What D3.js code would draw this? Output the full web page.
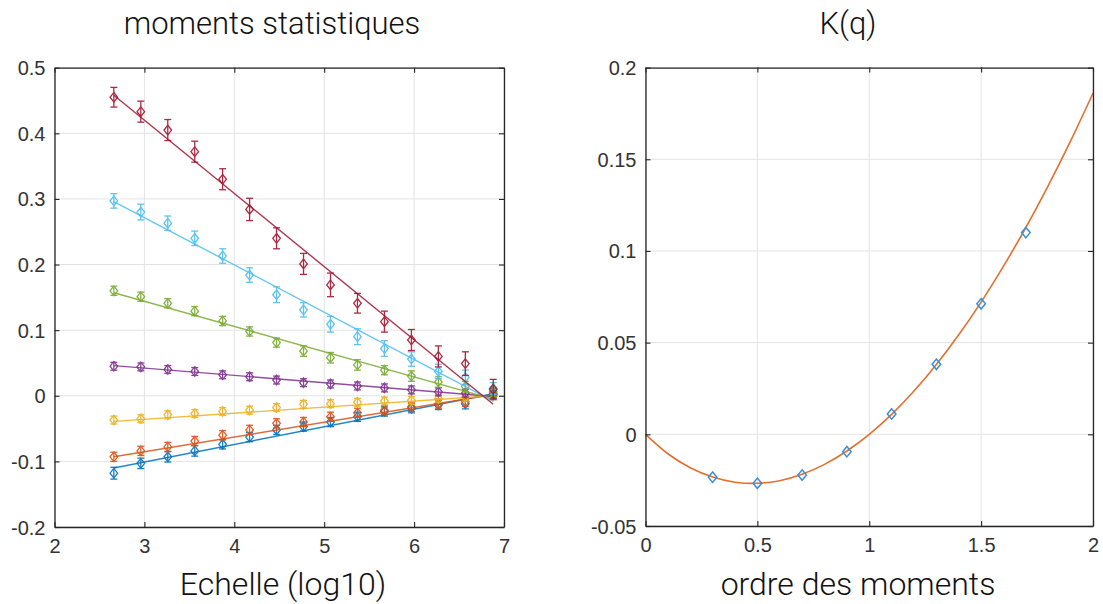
<!DOCTYPE html>
<html><head><meta charset="utf-8">
<script src="https://cdn.jsdelivr.net/npm/d3@7"></script>
<style>body{margin:0;background:#fff}</style>
</head><body><svg id="c" width="1103" height="604"></svg>
<script>
// ---------- data: left panel (moments statistiques) ----------
const scaleX = [2.66,2.96,3.26,3.56,3.87,4.17,4.47,4.77,5.07,5.37,5.67,5.97,6.27,6.57,6.88];
const seriesBlue   = [-0.118,-0.103,-0.093,-0.084,-0.074,-0.063,-0.052,-0.047,-0.040,-0.032,-0.024,-0.019,-0.014,-0.012,0.004];
const seriesOrange = [-0.093,-0.084,-0.078,-0.069,-0.060,-0.052,-0.042,-0.040,-0.032,-0.026,-0.022,-0.017,-0.012,-0.009,0.000];
const seriesYellow = [-0.037,-0.035,-0.029,-0.027,-0.024,-0.022,-0.018,-0.013,-0.012,-0.010,-0.008,-0.007,-0.004,-0.002,0.000];
const seriesPurple = [0.045,0.044,0.040,0.037,0.032,0.029,0.024,0.020,0.018,0.015,0.012,0.009,0.006,0.004,0.002];
const seriesGreen  = [0.160,0.151,0.141,0.129,0.114,0.098,0.081,0.068,0.058,0.047,0.039,0.030,0.021,0.014,0.006];
const seriesLBlue  = [0.297,0.280,0.263,0.240,0.213,0.184,0.154,0.131,0.109,0.090,0.072,0.056,0.037,0.028,0.011];
const seriesRed    = [0.455,0.433,0.405,0.372,0.330,0.284,0.240,0.201,0.169,0.141,0.113,0.085,0.060,0.049,0.010];
const errBlue   = [0.009,0.008,0.008,0.008,0.007,0.007,0.007,0.007,0.007,0.007,0.007,0.007,0.007,0.008,0.007];
const errOrange = [0.007,0.007,0.007,0.007,0.007,0.007,0.007,0.007,0.007,0.007,0.007,0.007,0.007,0.007,0.006];
const errYellow = [0.006,0.006,0.006,0.006,0.006,0.006,0.006,0.006,0.006,0.006,0.006,0.006,0.006,0.006,0.006];
const errPurple = [0.006,0.006,0.006,0.006,0.006,0.006,0.006,0.006,0.006,0.006,0.006,0.006,0.006,0.006,0.006];
const errGreen  = [0.007,0.007,0.007,0.007,0.007,0.007,0.007,0.008,0.008,0.008,0.007,0.008,0.008,0.008,0.007];
const errLBlue  = [0.011,0.012,0.011,0.011,0.011,0.011,0.012,0.011,0.012,0.012,0.012,0.011,0.011,0.011,0.009];
const errRed    = [0.015,0.016,0.016,0.016,0.016,0.017,0.016,0.016,0.018,0.015,0.016,0.016,0.016,0.018,0.015];
const fitX      = [2.66, 6.88];
const fitStart  = [-0.110,-0.093,-0.039,0.046,0.157,0.296,0.458];
const fitEnd    = [0.003,0.002,0.000,-0.001,-0.005,-0.008,-0.013];
const seriesColors = ["#0072BD","#D95319","#EDB120","#7E2F8E","#77AC30","#4DBEEE","#A2142F"];
const leftXTicks = [2,3,4,5,6,7];
const leftYTicks = [-0.2,-0.1,0,0.1,0.2,0.3,0.4,0.5];
const leftYLabels = ["-0.2","-0.1","0","0.1","0.2","0.3","0.4","0.5"];

// ---------- data: right panel K(q) ----------
const qPoints = [0.3,0.5,0.7,0.9,1.1,1.3,1.5,1.7];
const kPoints = [-0.0234,-0.0267,-0.0222,-0.0095,0.0111,0.0382,0.0712,0.1100];
const qCurve = [0,0.1,0.2,0.3,0.4,0.5,0.6,0.7,0.8,0.9,1.0,1.1,1.2,1.3,1.4,1.5,1.6,1.7,1.8,1.9,2.0];
const kCurve = [0,-0.0106,-0.0182,-0.0233,-0.0261,-0.0267,-0.0253,-0.0218,-0.0164,-0.0091,0,0.0109,0.0236,0.0381,0.0543,0.0721,0.0917,0.1128,0.1356,0.1600,0.1860];
const rightXTicks = [0,0.5,1,1.5,2];
const rightXLabels = ["0","0.5","1","1.5","2"];
const rightYTicks = [-0.05,0,0.05,0.1,0.15,0.2];
const rightYLabels = ["-0.05","0","0.05","0.1","0.15","0.2"];

const svg = d3.select("#c");
const AX = "#262626", GRID = "#e3e3e3", TICKTXT = "#333";
const titleFont = "Roboto, 'Open Sans', sans-serif";
const tickFont = "'Liberation Sans', Arial, sans-serif";

function frame(g, x, y, xt, yt) {
  const [x0,x1] = x.range(), [y0,y1] = y.range();
  g.append("g").selectAll("line").data(xt).join("line")
    .attr("x1", d=>x(d)).attr("x2", d=>x(d)).attr("y1", y0).attr("y2", y1)
    .attr("stroke", GRID).attr("stroke-width", 1);
  g.append("g").selectAll("line").data(yt).join("line")
    .attr("y1", d=>y(d)).attr("y2", d=>y(d)).attr("x1", x0).attr("x2", x1)
    .attr("stroke", GRID).attr("stroke-width", 1);
}
function axes(g, x, y, xt, xl, yt, yl) {
  const [x0,x1] = x.range(), [y0,y1] = y.range();
  const T = 5;
  const bottom = g.append("g").attr("transform", `translate(0,${y0})`)
    .call(d3.axisBottom(x).tickValues(xt).tickFormat((d,i)=>xl[i]).tickSizeInner(-T).tickSizeOuter(0).tickPadding(12));
  const top = g.append("g").attr("transform", `translate(0,${y1})`)
    .call(d3.axisTop(x).tickValues(xt).tickFormat("").tickSizeInner(-T).tickSizeOuter(0));
  const left = g.append("g").attr("transform", `translate(${x0},0)`)
    .call(d3.axisLeft(y).tickValues(yt).tickFormat((d,i)=>yl[i]).tickSizeInner(-T).tickSizeOuter(0).tickPadding(9));
  const right = g.append("g").attr("transform", `translate(${x1},0)`)
    .call(d3.axisRight(y).tickValues(yt).tickFormat("").tickSizeInner(-T).tickSizeOuter(0));
  [bottom,top,left,right].forEach(a=>{
    a.select(".domain").attr("stroke", AX).attr("stroke-width", 1.3);
    a.selectAll(".tick line").attr("stroke", AX).attr("stroke-width", 1.1);
    a.selectAll("text").attr("fill", TICKTXT).style("font-family", tickFont).style("font-size", "20px");
  });
  left.selectAll("text").attr("dy", "0.35em");
}
function diamond(w, h) { return `M0,${-h}L${w},0L0,${h}L${-w},0Z`; }

// ---------- left panel ----------
const xL = d3.scaleLinear().domain([2,7]).range([54.5,504]);
const yL = d3.scaleLinear().domain([-0.2,0.5]).range([527,67.7]);
const gL = svg.append("g");
frame(gL, xL, yL, leftXTicks, leftYTicks);
const allSeries = [seriesBlue,seriesOrange,seriesYellow,seriesPurple,seriesGreen,seriesLBlue,seriesRed];
const allErr = [errBlue,errOrange,errYellow,errPurple,errGreen,errLBlue,errRed];
allSeries.forEach((vals, s) => {
  const col = seriesColors[s];
  const sg = gL.append("g");
  sg.append("line")
    .attr("x1", xL(fitX[0])).attr("x2", xL(fitX[1]))
    .attr("y1", yL(fitStart[s])).attr("y2", yL(fitEnd[s]))
    .attr("stroke", col).attr("stroke-width", 1.4).attr("opacity", 0.85);
  const pts = vals.map((v,i)=>({x:scaleX[i], y:v, e:allErr[s][i]}));
  const pg = sg.selectAll("g.pt").data(pts).join("g").attr("class","pt")
    .attr("transform", d=>`translate(${xL(d.x)},${yL(d.y)})`)
    .attr("stroke", col).attr("fill", "none").attr("stroke-width", 1.3).attr("opacity", 0.9);
  pg.append("line").attr("x1",0).attr("x2",0)
    .attr("y1", d=>yL(d.y+d.e)-yL(d.y)).attr("y2", d=>yL(d.y-d.e)-yL(d.y));
  pg.append("line").attr("x1",-3.5).attr("x2",3.5)
    .attr("y1", d=>yL(d.y+d.e)-yL(d.y)).attr("y2", d=>yL(d.y+d.e)-yL(d.y));
  pg.append("line").attr("x1",-3.5).attr("x2",3.5)
    .attr("y1", d=>yL(d.y-d.e)-yL(d.y)).attr("y2", d=>yL(d.y-d.e)-yL(d.y));
  pg.append("path").attr("d", diamond(3.8, 4.8));
});
axes(gL, xL, yL, leftXTicks, leftXTicks.map(String), leftYTicks, leftYLabels);

// ---------- right panel ----------
const xR = d3.scaleLinear().domain([0,2]).range([645.5,1093]);
const yR = d3.scaleLinear().domain([-0.05,0.2]).range([526,67.6]);
const gR = svg.append("g");
frame(gR, xR, yR, rightXTicks, rightYTicks);
gR.append("path")
  .datum(qCurve.map((q,i)=>[q,kCurve[i]]))
  .attr("d", d3.line().x(d=>xR(d[0])).y(d=>yR(d[1])).curve(d3.curveNatural))
  .attr("fill","none").attr("stroke","#E2702E").attr("stroke-width",1.6);
gR.selectAll("path.pt").data(qPoints.map((q,i)=>[q,kPoints[i]])).join("path").attr("class","pt")
  .attr("transform", d=>`translate(${xR(d[0])},${yR(d[1])})`)
  .attr("d", diamond(4.3,5.2))
  .attr("fill","none").attr("stroke","#3a8fd6").attr("stroke-width",1.5);
axes(gR, xR, yR, rightXTicks, rightXLabels, rightYTicks, rightYLabels);

// ---------- titles / labels ----------
const texts = [
  {t:"moments statistiques", x:272, y:34, s:31},
  {t:"K(q)", x:848, y:34, s:31},
  {t:"Echelle (log10)", x:283, y:595, s:32},
  {t:"ordre des moments", x:858, y:595, s:32}
];
svg.selectAll("text.lbl").data(texts).join("text").attr("class","lbl")
  .attr("x", d=>d.x).attr("y", d=>d.y).attr("text-anchor","middle")
  .style("font-family", titleFont).style("font-weight", 300).style("font-size", d=>d.s+"px")
  .attr("fill","#111").text(d=>d.t);
</script>
</body></html>
